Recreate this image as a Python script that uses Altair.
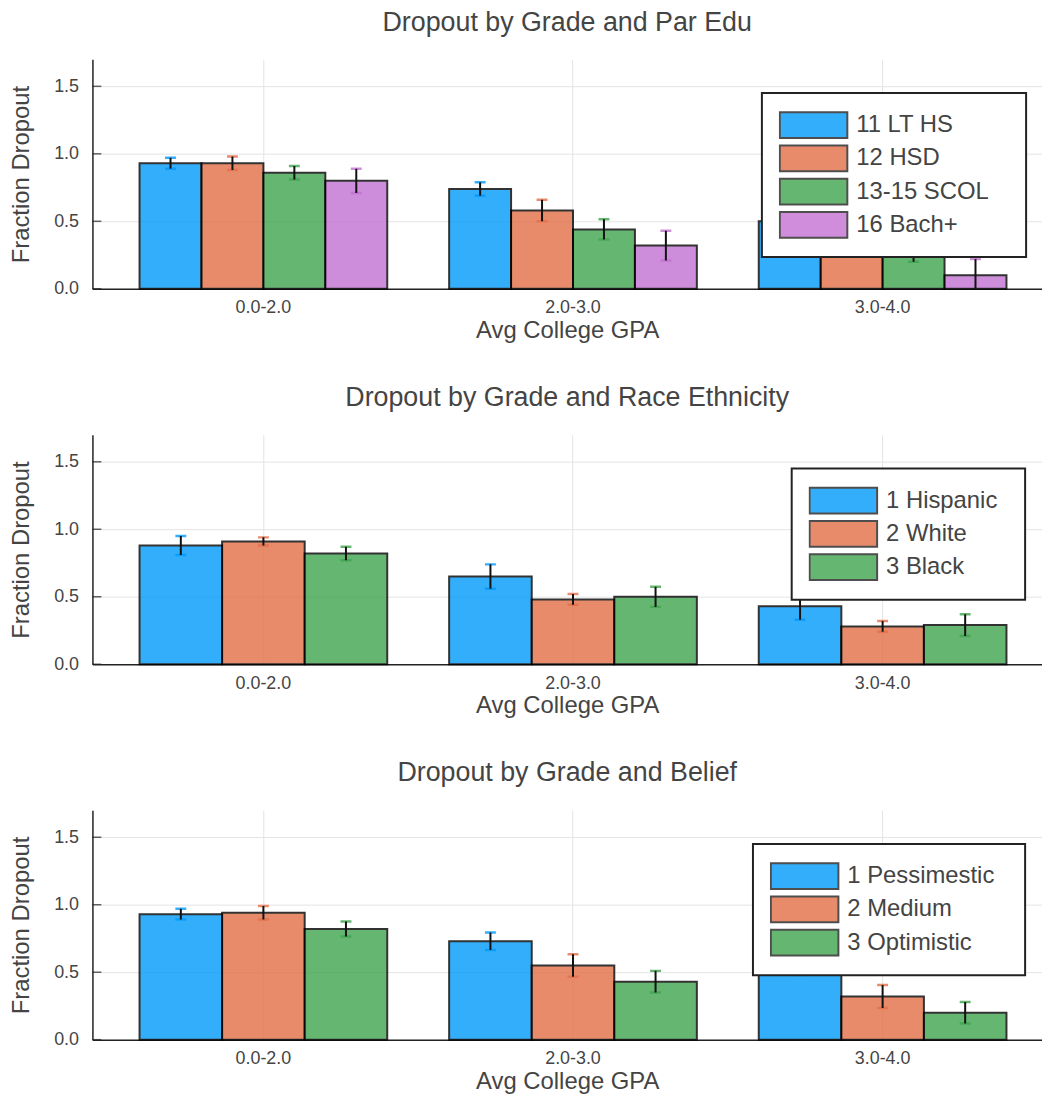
import altair as alt
import pandas as pd

FONT = "Liberation Sans"

gpa_bins = ["0.0-2.0", "2.0-3.0", "3.0-4.0"]
y_ticks = [0.0, 0.5, 1.0, 1.5]
palette = ["#009AFA", "#E36F47", "#3EA44E", "#C371D2"]

# Panel 1: parental education
paredu_title = "Dropout by Grade and Par Edu"
paredu_groups = ["11 LT HS", "12 HSD", "13-15 SCOL", "16 Bach+"]
paredu_means = [[0.93, 0.74, 0.50], [0.93, 0.58, 0.34], [0.86, 0.44, 0.26], [0.80, 0.32, 0.10]]
paredu_errs = [[0.04, 0.05, 0.07], [0.05, 0.08, 0.07], [0.05, 0.075, 0.06], [0.09, 0.11, 0.12]]

# Panel 2: race / ethnicity
race_title = "Dropout by Grade and Race Ethnicity"
race_groups = ["1 Hispanic", "2 White", "3 Black"]
race_means = [[0.88, 0.65, 0.43], [0.91, 0.48, 0.28], [0.82, 0.50, 0.29]]
race_errs = [[0.07, 0.09, 0.10], [0.03, 0.04, 0.04], [0.05, 0.075, 0.08]]

# Panel 3: belief
belief_title = "Dropout by Grade and Belief"
belief_groups = ["1 Pessimestic", "2 Medium", "3 Optimistic"]
belief_means = [[0.93, 0.73, 0.56], [0.94, 0.55, 0.32], [0.82, 0.43, 0.20]]
belief_errs = [[0.04, 0.065, 0.08], [0.05, 0.083, 0.085], [0.055, 0.08, 0.08]]

RECT = "M-1,-0.382L1,-0.382L1,0.382L-1,0.382Z"


def panel(title, groups, means, errs, legend_x, legend_extra):
    rows = []
    for g, m_list, e_list in zip(groups, means, errs):
        for b, m, e in zip(gpa_bins, m_list, e_list):
            rows.append({"gpa": b, "group": g, "mean": m, "lo": m - e, "hi": m + e})
    df = pd.DataFrame(rows)
    tick_df = pd.DataFrame({"v": y_ticks})

    x_axis = alt.Axis(title="Avg College GPA", labelAngle=0, grid=True, bandPosition=0.5)
    x_scale = alt.Scale(paddingInner=0.2, paddingOuter=0.1335, align=0.57)
    xenc = alt.X("gpa:N", sort=gpa_bins, scale=x_scale, axis=x_axis)
    xoff = alt.XOffset("group:N", sort=groups,
                       scale=alt.Scale(domain=groups, paddingInner=0, paddingOuter=0))
    y_axis = alt.Axis(title="Fraction Dropout", values=y_ticks, format=".1f", grid=True)
    y_scale = alt.Scale(domain=[0, 1.7], nice=False, zero=True)
    legend = alt.Legend(
        title=".", titleOrient="right", titleFontSize=12, titleColor="white",
        titlePadding=legend_extra,
        orient="none", legendX=legend_x, legendY=34,
        symbolType=RECT, symbolSize=4624, clipHeight=30.5, rowPadding=2.5,
        labelOffset=8, labelFontSize=24, labelColor="#444", labelFont=FONT,
        fillColor="white", strokeColor="#222", padding=17,
        symbolStrokeColor="#222", symbolStrokeWidth=2, labelLimit=400,
    )
    color = alt.Color("group:N", sort=groups,
                      scale=alt.Scale(domain=groups, range=palette[:len(groups)]),
                      legend=legend)

    base = alt.Chart(df)
    bars = base.mark_bar(opacity=0.8, stroke="black", strokeWidth=2).encode(
        x=xenc, xOffset=xoff,
        y=alt.Y("mean:Q", scale=y_scale, axis=y_axis),
        color=color,
    )
    cap_hi = base.mark_tick(opacity=0.8, size=11, thickness=2.5, orient="horizontal", clip=True).encode(
        x=xenc, xOffset=xoff,
        y=alt.Y("hi:Q", scale=y_scale, axis=y_axis),
        color=color,
    )
    cap_lo = base.mark_tick(opacity=0.8, size=11, thickness=2.5, orient="horizontal", clip=True).encode(
        x=xenc, xOffset=xoff,
        y=alt.Y("lo:Q", scale=y_scale, axis=y_axis),
        color=color,
    )
    rule = base.mark_rule(color="#111", strokeWidth=2, clip=True).encode(
        x=xenc, xOffset=xoff,
        y=alt.Y("lo:Q", scale=y_scale, axis=y_axis),
        y2="hi:Q",
    )
    yticks = alt.Chart(tick_df).mark_tick(color="#222", size=9, thickness=1.5, orient="horizontal").encode(
        y=alt.Y("v:Q", scale=y_scale, axis=y_axis),
        x=alt.value(4.5),
    )
    return alt.layer(bars, cap_hi, cap_lo, rule, yticks).properties(
        width=956, height=231,
        title=alt.TitleParams(title, frame="group"),
    )


p1 = panel(paredu_title, paredu_groups, paredu_means, paredu_errs, 674, 17)
p2 = panel(race_title, race_groups, race_means, race_errs, 704, 7)
p3 = panel(belief_title, belief_groups, belief_means, belief_errs, 665, 10)

chart = alt.vconcat(p1, p2, p3, spacing=42).resolve_scale(
    color="independent", xOffset="independent", x="independent"
).resolve_legend(color="independent").properties(
    padding={"left": 1, "top": -3, "right": 0, "bottom": 0}
).configure_view(stroke=None).configure_axis(
    labelFont=FONT, titleFont=FONT, labelFontSize=18, titleFontSize=24,
    labelColor="#444", titleColor="#444", titleFontWeight="normal",
    domainColor="#222", domainWidth=1.5, gridColor="#e4e4e4", gridWidth=1,
    ticks=False,
).configure_axisX(labelPadding=10, titlePadding=2).configure_axisY(
    labelPadding=14, titlePadding=20
).configure_title(
    font=FONT, fontSize=27, color="#444", fontWeight="normal", offset=23, anchor="middle"
).configure_legend(strokeWidth=2)

chart.save("out.html", embed_options={"renderer": "svg", "actions": False})
